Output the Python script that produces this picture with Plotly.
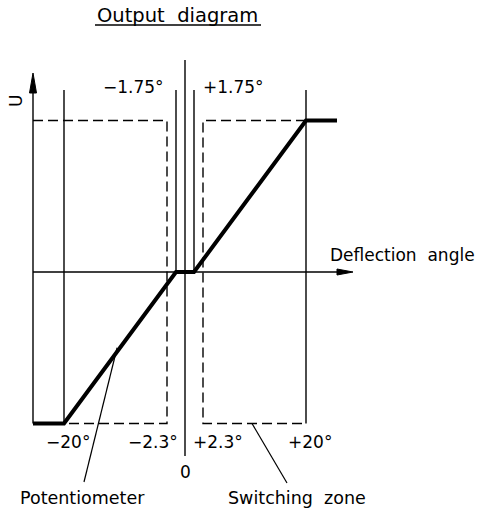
import numpy as np
import plotly.graph_objects as go

# output characteristic (deflection angle in degrees -> output U, normalised)
curve_angle = [-25, -20, -1.75, 1.75, 20, 25]
curve_u = [-1, -1, 0, 0, 1, 1]

# switching zones (angle ranges, active when |angle| > 2.3)
zone_inner = [-2.3, 2.3]
zone_outer = [-25, 25]

# marked angles
tick_angles = [-20, -2.3, 2.3, 20]
tick_labels = ["−20°", "−2.3°", "+2.3°", "+20°"]
dead_angles = [-1.75, 1.75]
dead_labels = ["−1.75°", "+1.75°"]

# schematic (not to scale) drawing scale for the angle axis
scale_angle = [-25, -20, -2.3, -1.75, 0, 1.75, 2.3, 20, 25]
scale_pos = [-152, -121, -18, -9, 0, 9, 18, 121, 152]
U_SCALE = 151.5


def X(a):
    return np.interp(a, scale_angle, scale_pos)


def Y(u):
    return np.asarray(u) * U_SCALE


THIN = dict(color="black", width=1.4)
DASH = dict(color="black", width=1.4, dash="10px,5px")
FONT = dict(family="DejaVu Sans", size=17, color="black")

fig = go.Figure()


def line(xs, ys, style):
    fig.add_trace(go.Scatter(x=list(xs), y=list(ys), mode="lines", line=style,
                             hoverinfo="skip", showlegend=False))


top = 182      # top of the vertical reference lines
u_top = 179    # arrow base of the U axis
# U axis and deflection axis
line([X(-25), X(-25)], [Y(-1), u_top], THIN)
line([X(-25), 153], [0, 0], THIN)
# +-20 deg lines
for a in [-20, 20]:
    line([X(a), X(a)], [Y(-1), top], THIN)
# dead band lines
for a in dead_angles:
    line([X(a), X(a)], [0, top], THIN)
# zero line
line([X(0), X(0)], [-184, 212], THIN)

# switching zone boxes (dashed)
line([X(zone_outer[0]), X(zone_inner[0]), X(zone_inner[0]), X(-20)],
     [Y(1), Y(1), Y(-1), Y(-1)], DASH)
line([X(20), X(zone_inner[1]), X(zone_inner[1]), X(20)],
     [Y(1), Y(1), Y(-1), Y(-1)], DASH)

# output curve
line(X(curve_angle), Y(curve_u), dict(color="black", width=4))

# leaders
pa = np.interp(-0.5, curve_u[1:3], curve_angle[1:3])
line([X(pa), -101], [Y(-0.5), -210], dict(color="black", width=1.2))
line([67, 102], [Y(-1), -211], dict(color="black", width=1.2))

# arrowheads
fig.add_shape(type="path", path=f"M {X(-25)-3.5},{u_top} L {X(-25)},{u_top+20} L {X(-25)+3.5},{u_top} Z",
              fillcolor="black", line=dict(color="black", width=1))
fig.add_shape(type="path", path="M 152,3 L 168,0 L 152,-3 Z",
              fillcolor="black", line=dict(color="black", width=1))
# title underline
fig.add_shape(type="line", x0=-90, x1=76, y0=247, y1=247, line=dict(color="black", width=1.4))


def text(x, y, s, xanchor="center", angle=0, size=None):
    f = dict(FONT, size=size) if size else FONT
    fig.add_annotation(x=x, y=y, text=s, showarrow=False, font=f,
                       xanchor=xanchor, yanchor="middle", textangle=angle)


text(-8, 257, "Output  diagram", size=19.5)
text(-169, 171, "U", angle=-90)
text(-19, 185, dead_labels[0], xanchor="right")
text(16, 185, dead_labels[1], xanchor="left")
text(143, 17, "Deflection  angle", xanchor="left")
for a, s in zip(tick_angles, tick_labels):
    if abs(a) > 10:
        text(X(a) + 4, -170, s)
    elif a < 0:
        text(-5, -170, s, xanchor="right")
    else:
        text(6, -170, s, xanchor="left")
text(0, -200, "0")
text(-103, -226, "Potentiometer", size=17.5)
text(112, -226, "Switching  zone", size=17.5)

fig.update_layout(
    width=484, height=517,
    margin=dict(l=0, r=0, t=0, b=0),
    paper_bgcolor="white", plot_bgcolor="white",
    xaxis=dict(range=[-185, 299], visible=False),
    yaxis=dict(range=[-245, 272], visible=False),
)
# drop the default page margin so the figure sits at the window corner
fig.write_html("out.html", config={"displayModeBar": False},
               post_script="document.body.style.margin='0';")
